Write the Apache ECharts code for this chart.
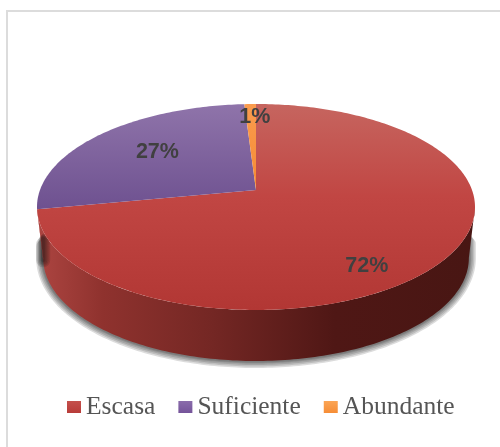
<!DOCTYPE html>
<html>
<head>
<meta charset="utf-8">
<style>html,body{margin:0;padding:0;background:#fff}#c{width:500px;height:447px}</style>
<script src="https://cdn.jsdelivr.net/npm/echarts@6/dist/echarts.min.js"></script>
</head>
<body>
<div id="c"></div>
<script>
const categories = ['Escasa', 'Suficiente', 'Abundante'];
const percentages = [72, 27, 1];

// Layout and styling of the tilted disc
const CX = 256, CY = 207, RX = 216, RY = 103, APEX_SHIFT = -17, DEPTH = 51, BASE_SCALE = 0.972;
const K = APEX_SHIFT / RY;
const labelNudge = [[-15, 28], [13, 2], [3, -10]];
const shadowWidths = [14, 11, 8, 5, 3];
const topFill = [
  [[0, '#c6655f'], [0.45, '#c14643'], [1, '#b23734']],
  [[0, '#8f74aa'], [1, '#6e5190']],
  [[0, '#fa9c4e'], [1, '#f58a33']]
];
const legendFill = [
  [[0, '#c4504c'], [1, '#b83c39']],
  [[0, '#8a6cab'], [1, '#75549a']],
  [[0, '#fba555'], [1, '#f68d36']]
];
const sideStops = [[0, '#ad4541'], [0.15, '#8f322e'], [0.4, '#742724'], [0.68, '#4f1715'], [1, '#481613']];

const total = percentages.reduce((a, b) => a + b, 0);

// Disc point (angle clockwise from 12 o'clock, radius fraction) -> screen, with perspective
function project(deg, t) {
  const r = deg * Math.PI / 180;
  const u = Math.sin(r) * t, v = -Math.cos(r) * t;
  const d = 1 + K * v;
  return [CX + RX * u / d, CY + (RY * v + APEX_SHIFT) / d];
}
function arc(a, b) {
  const pts = [];
  const n = Math.max(2, Math.ceil(b - a));
  for (let i = 0; i <= n; i++) pts.push(project(a + (b - a) * i / n, 1));
  return pts;
}
function grad(stops, horizontal, y2) {
  return {
    type: 'linear', global: true,
    x: horizontal ? 37 : 0, y: horizontal ? 0 : 104,
    x2: horizontal ? 475 : 0, y2: horizontal ? 0 : y2,
    colorStops: stops.map(s => ({ offset: s[0], color: s[1] }))
  };
}
const topGradientEnd = [310, 209, 190];

function makeRender(idx) {
  return function (params, api) {
    const value = api.value(0);
    const before = percentages.slice(0, idx).reduce((a, b) => a + b, 0);
    const a = before / total * 360, b = a + value / total * 360;
    const children = [];
    // the visible rim lies on the near half of the outline
    const sa = Math.max(a, 99.5), sb = Math.min(b, 260.5);
    if (sb > sa) {
      const t = arc(sa, sb);
      const low = t.map(p => [CX + (p[0] - CX) * BASE_SCALE, p[1] + DEPTH]).reverse();
      // soft dark halo under the rim, built from stacked translucent outlines
      shadowWidths.forEach(w => {
        const shadowTop = t.map(p => [CX + (p[0] - CX) * BASE_SCALE, p[1] + 26 + w * 0.8]);
        children.push({
          type: 'polygon', shape: { points: shadowTop.concat(low) },
          style: { fill: 'none', stroke: 'rgba(20,20,20,0.15)', lineWidth: w, lineJoin: 'round' }
        });
      });
      children.push({
        type: 'polygon', shape: { points: t.concat(low) },
        style: { fill: grad(sideStops, true) }
      });
    }
    children.push({
      type: 'polygon',
      shape: { points: [project(0, 0)].concat(arc(a, b)) },
      style: { fill: grad(topFill[idx], false, topGradientEnd[idx]) }
    });
    const lp = project((a + b) / 2, 0.7);
    children.push({
      type: 'text', z2: 10,
      style: {
        text: value + '%', x: lp[0] + labelNudge[idx][0], y: lp[1] + labelNudge[idx][1],
        fill: '#404040', font: 'bold 21.5px "Liberation Sans", Arial, sans-serif',
        align: 'center', verticalAlign: 'middle'
      }
    });
    return { type: 'group', children };
  };
}

const chart = echarts.init(document.getElementById('c'), null, { renderer: 'canvas' });
chart.setOption({
  animation: false,
  backgroundColor: '#ffffff',
  graphic: [{
    type: 'rect', silent: true, z: -1,
    shape: { x: 7, y: 11, width: 700, height: 700 },
    style: { fill: 'none', stroke: '#dcdcdc', lineWidth: 2 }
  }],
  legend: {
    data: categories,
    left: 67, top: 394,
    itemWidth: 14, itemHeight: 12, itemGap: 23,
    icon: 'rect',
    textStyle: { color: '#555555', fontFamily: '"Liberation Serif", serif', fontSize: 25.5 },
    selectedMode: false,
    padding: 0
  },
  series: categories.map((name, i) => ({
    type: 'custom',
    name,
    coordinateSystem: 'none',
    silent: true,
    itemStyle: { color: { type: 'linear', x: 0, y: 0, x2: 0, y2: 1, colorStops: legendFill[i].map(s => ({ offset: s[0], color: s[1] })) } },
    data: [[percentages[i]]],
    renderItem: makeRender(i)
  }))
});
</script>
</body>
</html>
